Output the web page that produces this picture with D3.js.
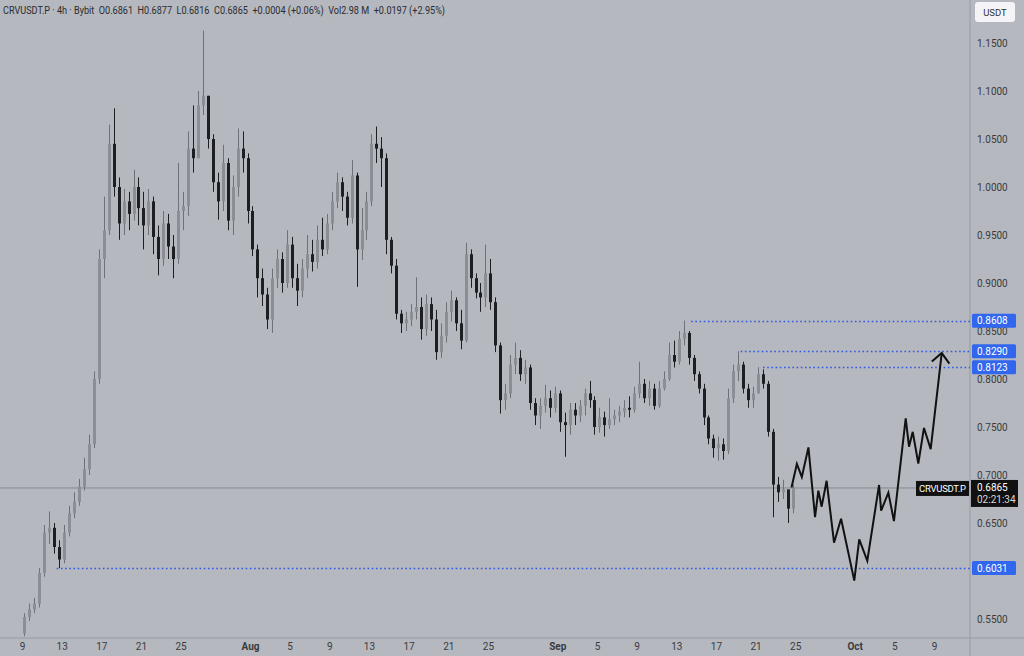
<!DOCTYPE html>
<html>
<head>
<meta charset="utf-8">
<script src="https://cdn.jsdelivr.net/npm/d3@7"></script>
<style>
  html, body { margin: 0; padding: 0; background: #b5b8bf; }
  svg { display: block; font-family: Roboto, "Liberation Sans", sans-serif; }
</style>
</head>
<body>
<div id="chart"></div>
<script>
// 12h candles, starting Jul 9 2025 00:00
const candleStart = new Date(2025, 6, 9);
const firstOpen = 0.535;
const closes = [
  0.552,0.560,0.566,0.598,0.640,0.645,0.625,0.612,0.640,0.660,0.672,0.688,0.706,0.732,0.800,0.925,
  0.955,1.045,1.000,0.962,0.985,0.972,1.000,0.978,0.960,0.985,0.948,0.925,0.962,0.938,0.925,0.975,0.980,1.040,1.030,1.085,
  1.095,1.050,1.005,0.985,1.025,0.965,1.000,1.040,1.030,0.975,0.935,0.905,0.888,0.862,0.905,0.925,0.900,0.940,0.905,0.892,
  0.915,0.930,0.922,0.945,0.935,0.962,0.985,1.005,0.990,0.968,1.012,0.935,0.955,0.985,1.045,1.040,1.030,0.945,0.918,0.868,
  0.858,0.862,0.870,0.875,0.852,0.878,0.862,0.828,0.845,0.870,0.882,0.858,0.840,0.930,0.905,0.890,0.885,0.910,0.880,0.835,
  0.778,0.785,0.815,0.822,0.805,0.812,0.775,0.762,0.772,0.780,0.770,0.785,0.755,0.752,0.768,0.762,0.772,0.785,0.778,0.750,
  0.760,0.752,0.758,0.762,0.766,0.770,0.768,0.785,0.795,0.780,0.790,0.772,0.790,0.800,0.825,0.818,0.842,0.848,0.822,0.805,
  0.790,0.760,0.738,0.728,0.732,0.725,0.780,0.808,0.815,0.790,0.778,0.785,0.805,0.795,0.745,0.690,0.682,0.685,0.665,0.6865
];
const highs = [
  0.556,0.566,0.572,0.603,0.648,0.662,0.650,0.632,0.648,0.668,0.682,0.696,0.718,0.742,0.808,0.935,
  0.990,1.065,1.082,1.010,0.998,0.995,1.018,1.010,0.995,0.998,0.990,0.960,0.975,0.972,0.950,1.025,0.995,1.058,1.085,1.100,
  1.163,1.095,1.055,1.015,1.044,1.030,1.012,1.061,1.058,1.035,0.980,0.940,0.915,0.895,0.915,0.935,0.932,0.955,0.948,0.920,
  0.925,0.950,0.945,0.960,0.968,0.972,0.995,1.015,1.010,0.995,1.028,1.015,0.978,0.995,1.055,1.063,1.052,1.035,0.948,0.925,
  0.872,0.870,0.878,0.906,0.885,0.888,0.885,0.872,0.858,0.880,0.892,0.885,0.872,0.942,0.935,0.910,0.900,0.940,0.925,0.885,
  0.838,0.795,0.825,0.838,0.830,0.820,0.815,0.780,0.780,0.794,0.788,0.792,0.788,0.765,0.775,0.775,0.778,0.790,0.798,0.782,
  0.770,0.766,0.780,0.768,0.772,0.778,0.782,0.792,0.818,0.800,0.798,0.795,0.798,0.808,0.838,0.840,0.850,0.8608,0.850,0.825,
  0.808,0.795,0.762,0.742,0.740,0.738,0.790,0.815,0.829,0.818,0.795,0.792,0.8123,0.810,0.798,0.748,0.698,0.695,0.680,0.690
];
const lows = [
  0.532,0.548,0.556,0.562,0.594,0.628,0.618,0.603,0.608,0.636,0.655,0.668,0.684,0.700,0.728,0.795,
  0.905,0.950,0.990,0.945,0.950,0.955,0.965,0.960,0.935,0.950,0.930,0.908,0.918,0.925,0.905,0.920,0.955,0.970,1.015,1.030,
  1.075,1.040,0.995,0.966,0.975,0.955,0.950,0.990,1.015,0.962,0.928,0.885,0.876,0.852,0.848,0.895,0.890,0.895,0.895,0.876,
  0.885,0.905,0.912,0.915,0.928,0.930,0.955,0.978,0.975,0.960,0.962,0.896,0.924,0.945,0.980,1.025,1.000,0.930,0.910,0.862,
  0.848,0.850,0.855,0.862,0.841,0.845,0.850,0.820,0.822,0.838,0.860,0.850,0.831,0.838,0.895,0.884,0.870,0.875,0.872,0.828,
  0.764,0.768,0.780,0.805,0.798,0.795,0.768,0.752,0.748,0.765,0.760,0.765,0.745,0.719,0.742,0.752,0.755,0.762,0.770,0.742,
  0.744,0.740,0.748,0.752,0.755,0.760,0.760,0.765,0.780,0.775,0.772,0.768,0.770,0.788,0.798,0.812,0.815,0.835,0.815,0.798,
  0.785,0.752,0.732,0.718,0.715,0.716,0.722,0.775,0.798,0.785,0.770,0.770,0.785,0.790,0.740,0.656,0.672,0.675,0.650,0.660
];

// hand-drawn projection path (time, price)
const projTimes = [
  "2025-09-24T15:00","2025-09-25T04:00","2025-09-25T16:00","2025-09-26T08:00","2025-09-27T00:00",
  "2025-09-27T08:00","2025-09-27T16:00","2025-09-28T04:00","2025-09-28T22:00","2025-09-29T15:00",
  "2025-09-30T23:00","2025-10-01T11:00","2025-10-02T06:30","2025-10-03T11:00","2025-10-03T16:00",
  "2025-10-04T09:30","2025-10-04T23:00","2025-10-06T03:30","2025-10-06T11:30","2025-10-06T20:30",
  "2025-10-07T10:00","2025-10-07T23:45","2025-10-08T16:00","2025-10-09T18:40"
];
const projPrices = [
  0.687,0.7115,0.698,0.7288,0.6562,0.6836,0.667,0.694,0.6295,0.6545,
  0.590,0.633,0.6107,0.6896,0.6628,0.6816,0.652,0.759,0.7295,0.745,
  0.712,0.749,0.727,0.827
];

// horizontal levels (price, start time)
const levelPrices = [0.6031, 0.8608, 0.8290, 0.8123];
const levelStarts = ["2025-07-12T12:00","2025-09-14T12:00","2025-09-19T12:00","2025-09-21T18:00"];

// 0.6000 sits under the 0.6031 label in the reference
const priceTicks = [0.55,0.65,0.70,0.75,0.80,0.85,0.90,0.95,1.00,1.05,1.10,1.15];
const dateTicks = ["2025-07-09","2025-07-13","2025-07-17","2025-07-21","2025-07-25","2025-08-01",
  "2025-08-05","2025-08-09","2025-08-13","2025-08-17","2025-08-21","2025-08-25","2025-09-01",
  "2025-09-05","2025-09-09","2025-09-13","2025-09-17","2025-09-21","2025-09-25","2025-10-01",
  "2025-10-05","2025-10-09"];

const lastPrice = 0.6865;
const headerText = "CRVUSDT.P · 4h · Bybit  O0.6861  H0.6877  L0.6816  C0.6865  +0.0004 (+0.06%)  Vol2.98 M  +0.0197 (+2.95%)";

const W = 1024, H = 656, plotRight = 970, plotBottom = 638;
const parse = d3.isoParse;

const x = d3.scaleTime()
  .domain([new Date(2025, 6, 9), new Date(2025, 9, 9)])
  .range([22, 934]);
const y = d3.scaleLinear().domain([0.55, 1.15]).range([619, 43]);

const candles = closes.map((c, i) => ({
  t0: d3.timeHour.offset(candleStart, 12 * i),
  t1: d3.timeHour.offset(candleStart, 12 * (i + 1)),
  o: i === 0 ? firstOpen : closes[i - 1],
  h: highs[i], l: lows[i], c: c
}));

const svg = d3.select("#chart").append("svg")
  .attr("width", W).attr("height", H);

svg.append("rect").attr("width", W).attr("height", H).attr("fill", "#b5b8bf");

// axes frame
svg.append("line").attr("x1", 0).attr("x2", W).attr("y1", plotBottom).attr("y2", plotBottom)
  .attr("stroke", "#989ba2");
svg.append("line").attr("x1", plotRight).attr("x2", plotRight).attr("y1", 0).attr("y2", H)
  .attr("stroke", "#989ba2");

// header
svg.append("text").attr("x", 3).attr("y", 14)
  .attr("font-size", 10.5).attr("fill", "#2b2c30").attr("xml:space", "preserve")
  .attr("textLength", 442).attr("lengthAdjust", "spacingAndGlyphs")
  .text(headerText);

// current price line
svg.append("line").attr("x1", 0).attr("x2", plotRight)
  .attr("y1", y(lastPrice)).attr("y2", y(lastPrice))
  .attr("stroke", "#85888f").attr("stroke-width", 1);

// level lines
svg.selectAll(".level").data(levelPrices).enter().append("line")
  .attr("class", "level")
  .attr("x1", (d, i) => x(parse(levelStarts[i])))
  .attr("x2", plotRight)
  .attr("y1", d => Math.round(y(d)) + 0.5).attr("y2", d => Math.round(y(d)) + 0.5)
  .attr("stroke", "#3358e6").attr("stroke-width", 1.6)
  .attr("stroke-dasharray", "1.6,2.6");

// candles
const g = svg.append("g");
const bodyW = 3;
const cx = d => Math.round(x(new Date((+d.t0 + +d.t1) / 2)));
g.selectAll(".wick").data(candles).enter().append("line")
  .attr("x1", d => cx(d) + 0.5).attr("x2", d => cx(d) + 0.5)
  .attr("y1", d => y(d.h)).attr("y2", d => y(d.l))
  .attr("stroke", d => d.c >= d.o ? "#6e7177" : "#1e1f22").attr("stroke-width", 1);
g.selectAll(".body").data(candles).enter().append("rect")
  .attr("x", d => cx(d) - 1)
  .attr("width", bodyW)
  .attr("y", d => y(Math.max(d.o, d.c)))
  .attr("height", d => Math.max(1, Math.abs(y(d.o) - y(d.c))))
  .attr("fill", d => d.c >= d.o ? "#8b8e94" : "#1e1f22");

// projection
const proj = projTimes.map((t, i) => [x(parse(t)), y(projPrices[i])]);
svg.append("path").datum(proj)
  .attr("d", d3.line())
  .attr("fill", "none").attr("stroke", "#111").attr("stroke-width", 2)
  .attr("stroke-linejoin", "miter");
const tip = proj[proj.length - 1], prev = proj[proj.length - 2];
const ang = Math.atan2(prev[1] - tip[1], prev[0] - tip[0]);
const armLen = 13, spread = 0.75;
const arm = s => [tip[0] + armLen * Math.cos(ang + s), tip[1] + armLen * Math.sin(ang + s)];
svg.append("path").datum([arm(spread), tip, arm(-spread)])
  .attr("d", d3.line()).attr("fill", "none").attr("stroke", "#111").attr("stroke-width", 2);

// right axis
const yAxis = d3.axisRight(y).tickValues(priceTicks).tickFormat(d3.format(".4f")).tickSize(0).tickPadding(7);
svg.append("g").attr("transform", `translate(${plotRight},0)`).call(yAxis)
  .call(s => s.select(".domain").remove())
  .selectAll("text").attr("font-size", 10).attr("fill", "#3a3b40")
  .attr("font-family", "Roboto, sans-serif");

// bottom axis
const xAxis = d3.axisBottom(x).tickValues(dateTicks.map(parse)).tickSize(0).tickPadding(5)
  .tickFormat(d => d.getDate() === 1 ? d3.timeFormat("%b")(d) : d.getDate());
svg.append("g").attr("transform", `translate(0,${plotBottom})`).call(xAxis)
  .call(s => s.select(".domain").remove())
  .selectAll("text").attr("font-size", 10).attr("fill", "#3a3b40")
  .attr("font-family", "Roboto, sans-serif")
  .attr("font-weight", d => d.getDate() === 1 ? "bold" : "normal");

// level labels
const lab = svg.selectAll(".lvlab").data(levelPrices).enter().append("g")
  .attr("transform", d => `translate(972,${y(d)})`);
lab.append("rect").attr("x", 0).attr("y", -7).attr("width", 44).attr("height", 14)
  .attr("rx", 1.5).attr("fill", "#3166ee");
lab.append("text").attr("x", 5).attr("y", 3.6).attr("font-size", 10).attr("fill", "#fff")
  .text(d => d3.format(".4f")(d));

// last price labels
const ly = y(lastPrice);
svg.append("rect").attr("x", 916).attr("y", ly - 7).attr("width", 53).attr("height", 15).attr("fill", "#111");
svg.append("text").attr("x", 919).attr("y", ly + 4).attr("font-size", 9.5).attr("fill", "#fff")
  .attr("textLength", 47).text("CRVUSDT.P");
svg.append("rect").attr("x", 971).attr("y", ly - 8).attr("width", 47).attr("height", 27).attr("fill", "#111");
svg.append("text").attr("x", 977).attr("y", ly + 3.5).attr("font-size", 10).attr("fill", "#fff")
  .text(d3.format(".4f")(lastPrice));
svg.append("text").attr("x", 977).attr("y", ly + 15).attr("font-size", 10).attr("fill", "#d8d8d8").text("02:21:34");

// currency button
svg.append("rect").attr("x", 975).attr("y", 2).attr("width", 40).attr("height", 20).attr("rx", 3)
  .attr("fill", "#f4f4f6");
svg.append("text").attr("x", 995).attr("y", 15.5).attr("text-anchor", "middle")
  .attr("font-size", 9.5).attr("fill", "#333").text("USDT");
</script>
</body>
</html>
